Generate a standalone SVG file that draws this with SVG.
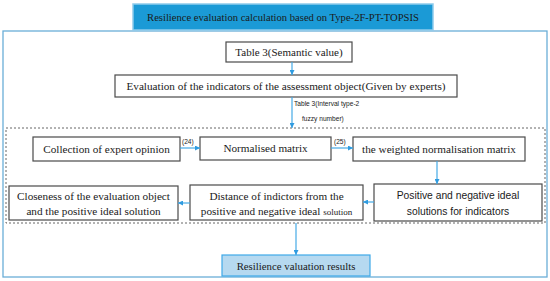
<svg xmlns="http://www.w3.org/2000/svg" width="550" height="281" viewBox="0 0 550 281">
<defs>
<marker id="ah" viewBox="0 0 6 6" refX="6" refY="3" markerWidth="5" markerHeight="5" orient="auto" markerUnits="userSpaceOnUse">
<path d="M0,0 L6,3 L0,6 z" fill="#2f9be0"/>
</marker>
<style>
.bx{fill:#fff;stroke:#4a4a4a;stroke-width:1.2}
.t{font-family:"Liberation Serif","Times New Roman",serif;font-size:11.2px;fill:#1a1a1a;text-anchor:middle}
.s{font-family:"Liberation Sans",Arial,sans-serif;font-size:10.3px;fill:#1a1a1a;text-anchor:middle}
.sm{font-family:"Liberation Sans",Arial,sans-serif;font-size:6.6px;fill:#1a1a1a}
.c{stroke:#45aae6;stroke-width:1.2;fill:none;marker-end:url(#ah)}
</style>
</defs>
<rect width="550" height="281" fill="#fff"/>
<rect x="3" y="31" width="544" height="246" fill="none" stroke="#6aaed8" stroke-width="1.3"/>
<rect x="6" y="128" width="539" height="95" fill="none" stroke="#666" stroke-width="1" stroke-dasharray="2,2"/>
<g id="title">
<rect x="133" y="4" width="300" height="26" fill="#1b9ad6" stroke="#8fcbec" stroke-width="1.5"/>
<text class="t" x="283" y="21" style="font-size:10.6px">Resilience evaluation calculation based on Type-2F-PT-TOPSIS</text>
</g>
<g id="table3">
<rect class="bx" x="226" y="42" width="126" height="20"/>
<text class="t" x="289" y="56" style="font-size:11px">Table 3(Semantic value)</text>
</g>
<g id="evaluation">
<rect class="bx" x="115" y="75" width="342" height="22"/>
<text class="t" x="286" y="90">Evaluation of the indicators of the assessment object(Given by experts)</text>
</g>
<g id="collection">
<rect class="bx" x="33" y="137" width="147" height="24"/>
<text class="t" x="106.5" y="152.5">Collection of expert opinion</text>
</g>
<g id="normalised">
<rect class="bx" x="200" y="137" width="131" height="23"/>
<text class="t" x="265.5" y="152">Normalised matrix</text>
</g>
<g id="weighted">
<rect class="bx" x="353" y="137" width="172" height="24"/>
<text class="t" x="439" y="152.5">the weighted normalisation matrix</text>
</g>
<g id="positive">
<rect class="bx" x="374" y="184" width="168" height="37"/>
<text class="s" x="458" y="199">Positive and negative ideal</text>
<text class="s" x="458" y="214.5">solutions for indicators</text>
</g>
<g id="distance">
<rect class="bx" x="190" y="185" width="173" height="35"/>
<text class="t" x="276.5" y="199.5">Distance of indictors from the</text>
<text class="t" x="276.5" y="215">positive and negative ideal <tspan style="font-size:9px">solution</tspan></text>
</g>
<g id="closeness">
<rect class="bx" x="9" y="186" width="169" height="34"/>
<text class="t" x="93.5" y="200">Closeness of the evaluation object</text>
<text class="t" x="93.5" y="215">and the positive ideal solution</text>
</g>
<g id="results">
<rect x="222" y="255" width="148" height="21" fill="#b6d9f0" stroke="#3fa9e8" stroke-width="1.2"/>
<text class="t" x="296" y="269.5" style="font-size:10.8px">Resilience valuation results</text>
</g>
<g id="connectors">
<path class="c" d="M292,62 V75"/>
<path class="c" d="M292,97 V128"/>
<text class="sm" x="294" y="106">Table 3(Interval type-2</text>
<text class="sm" x="302" y="121">fuzzy number)</text>
<path class="c" d="M180,148 H200"/>
<text class="sm" x="182" y="144">(24)</text>
<path class="c" d="M331,148 H353"/>
<text class="sm" x="334" y="144">(25)</text>
<path class="c" d="M437,161 V184"/>
<path class="c" d="M374,202 H363"/>
<path class="c" d="M190,203 H178"/>
<path class="c" d="M296,223 V255"/>
</g>
</svg>
